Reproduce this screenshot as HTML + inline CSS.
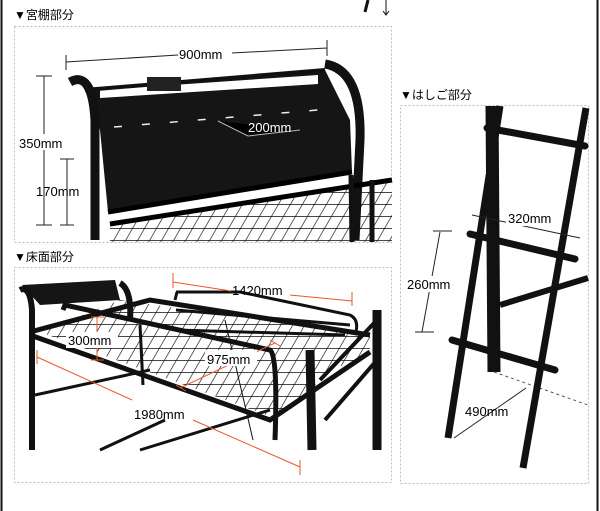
<!DOCTYPE html>
<html><head><meta charset="utf-8"><style>
body{margin:0;background:#fff;width:600px;height:511px;overflow:hidden}
svg{display:block}
text{font-family:"Liberation Sans","Noto Sans CJK JP",sans-serif}
</style></head><body>
<svg width="600" height="511" viewBox="0 0 600 511">
<defs>
<pattern id="g" width="12" height="12" patternUnits="userSpaceOnUse" patternTransform="skewX(-30)">
<rect width="12" height="12" fill="#fff"/><path d="M0 0H12M0 0V12" stroke="#111" stroke-width="1.5"/></pattern>
</defs>
<line x1="1.5" y1="0" x2="1.5" y2="511" stroke="#111" stroke-width="2"/>
<line x1="597.5" y1="0" x2="597.5" y2="511" stroke="#111" stroke-width="2"/>
<path d="M368 0 L365 12" stroke="#111" stroke-width="3"/><path d="M386 0V14M383 11l3 4 3-4" stroke="#111" fill="none"/>

<!-- panel 1 -->
<text x="14" y="19" font-size="12">▼宮棚部分</text>
<rect x="14.5" y="26.5" width="377" height="216" fill="none" stroke="#bbb" stroke-dasharray="2,2"/>
<polygon points="110,225 392,180 392,242 110,242" fill="url(#g)"/>
<polygon points="85,88 325,70 350,120 352,172 108,212 100,130" fill="#151515"/>
<polygon points="100,90 318,75 318,84 100,98" fill="#fff"/>
<path d="M70,82 Q92,70 95,120 L95,240" stroke="#111" stroke-width="9" fill="none"/>
<path d="M325,64 Q362,70 360,140 L355,240" stroke="#111" stroke-width="9" fill="none"/>
<path d="M85,90 L325,70" stroke="#111" stroke-width="4"/>
<rect x="147" y="77" width="34" height="14" fill="#222"/>
<path d="M114,127 L318,110" stroke="#eee" stroke-width="1.5" stroke-dasharray="8,20"/>
<path d="M108,212 L352,172 M110,224 L392,180" stroke="#000" stroke-width="5"/>
<path d="M351,175 L352,242 M372,180 L372,242" stroke="#111" stroke-width="5"/>
<path d="M66,62 L178,55 M232,53 L327,48 M66,55V70 M327,40V56" stroke="#222" stroke-width="1"/>
<text x="179" y="59" font-size="13">900mm</text>
<path d="M44,76V225 M36,76H52 M36,225H52" stroke="#222"/>
<rect x="18" y="134" width="50" height="16" fill="#fff"/>
<text x="19" y="148" font-size="13">350mm</text>
<path d="M67,159V225 M60,159H74 M60,225H74" stroke="#222"/>
<text x="36" y="196" font-size="13">170mm</text>
<path d="M218,121 L248,136 L300,130" stroke="#bbb"/>
<text x="248" y="132" font-size="13" fill="#fff">200mm</text>

<!-- panel 2 -->
<text x="14" y="261" font-size="12">▼床面部分</text>
<rect x="14.5" y="267.5" width="377" height="215" fill="none" stroke="#bbb" stroke-dasharray="2,2"/>
<polygon points="40,332 280,420 330,370 370,355 370,335 120,300" fill="url(#g)"/>
<polygon points="22,285 115,280 120,300 40,305" fill="#151515"/>
<path d="M20,290 Q30,285 32,310 L32,450 M120,283 Q132,290 130,320" stroke="#111" stroke-width="6" fill="none"/>
<path d="M30,335 L270,420 L370,352 M30,332 L150,300 L370,335" stroke="#111" stroke-width="5" fill="none"/>
<path d="M35,395 L150,370 M100,450 L165,420 M140,450 L270,410" stroke="#111" stroke-width="3"/>
<path d="M63,310 L65,305 L270,350 Q278,355 275,440" stroke="#111" stroke-width="5" fill="none"/>
<path d="M140,325 L143,385 M176,292 L240,292 L350,315 Q360,320 355,335 M175,300 L177,292 M176,310 L350,325 M177,330 L345,335" stroke="#111" stroke-width="3" fill="none"/>
<path d="M310,350 L312,450 M377,310 L377,450" stroke="#111" stroke-width="9"/>
<path d="M320,380 L377,320 M325,420 L377,360" stroke="#111" stroke-width="4"/>
<path d="M225,320 L253,440" stroke="#111" stroke-width="1"/>
<g stroke="#e8572a" stroke-width="1">
<path d="M173,282 L231,291 M290,295 L352,301 M173,273V288 M352,292V306"/>
<path d="M37,357 L132,400 M193,420 L300,467 M37,350V364 M300,460V475"/>
<path d="M180,388 L275,343 M176,385 L186,391 M270,340 L280,346"/>
<path d="M97,317V360 M91,317H104 M91,360H104"/>
</g>
<text x="232" y="295" font-size="13">1420mm</text>
<text x="134" y="419" font-size="13">1980mm</text>
<rect x="205" y="350" width="52" height="16" fill="#fff"/>
<text x="207" y="364" font-size="13">975mm</text>
<rect x="66" y="332" width="52" height="16" fill="#fff"/>
<text x="68" y="345" font-size="13">300mm</text>

<!-- panel 3 -->
<text x="400" y="99" font-size="12">▼はしご部分</text>
<rect x="400.5" y="105.5" width="188" height="378" fill="none" stroke="#bbb" stroke-dasharray="2,2"/>
<path d="M492,106 L494,372" stroke="#111" stroke-width="13"/>
<path d="M500,305 L588,278" stroke="#111" stroke-width="6"/>
<path d="M494,372 L588,405" stroke="#555" stroke-dasharray="3,3"/>
<path d="M500,106 L448,438" stroke="#111" stroke-width="7"/>
<path d="M586,108 L523,468" stroke="#111" stroke-width="7"/>
<path d="M487,128 L585,146 M470,234 L575,259 M452,340 L555,370" stroke="#111" stroke-width="7" stroke-linecap="round"/>
<path d="M472,215 L580,238" stroke="#222"/>
<rect x="506" y="210" width="54" height="16" fill="#fff"/>
<text x="508" y="223" font-size="13">320mm</text>
<path d="M440,232 L422,332 M433,231H452 M415,332H434" stroke="#222"/>
<rect x="406" y="276" width="52" height="16" fill="#fff"/>
<text x="407" y="289" font-size="13">260mm</text>
<path d="M454,438 L526,388" stroke="#222"/>
<text x="465" y="416" font-size="13">490mm</text>
</svg>
</body></html>
